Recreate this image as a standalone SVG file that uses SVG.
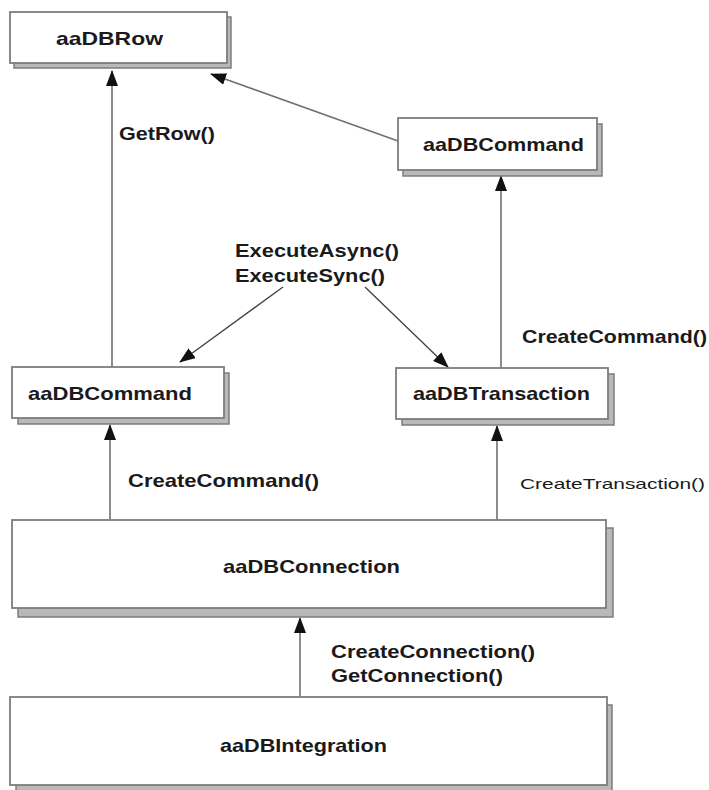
<svg xmlns="http://www.w3.org/2000/svg" width="709" height="790" viewBox="0 0 709 790">
<defs>
<marker id="ah" markerWidth="16" markerHeight="12" refX="15" refY="6" viewBox="0 0 16 12" orient="auto" markerUnits="userSpaceOnUse">
<path d="M0,0 L16,6 L0,12 Z" fill="#111"/>
</marker>
</defs>
<style>
.sh{fill:#b9b9b9;stroke:#7d7d7d;stroke-width:1.5}
.bx{fill:#fff;stroke:#7d7d7d;stroke-width:1.8}
.t{font-family:"Liberation Sans",Arial,sans-serif;font-weight:bold;font-size:19px;fill:#1a1a1a}
.tn{font-family:"Liberation Sans",Arial,sans-serif;font-weight:normal;font-size:15px;fill:#1a1a1a}
.ln{stroke:#707070;stroke-width:1.6;fill:none}
.dl{stroke:#404040;stroke-width:1.3;fill:none}
</style>
<rect x="0" y="0" width="709" height="790" fill="#fff"/>
<g id="connectors">
<line class="ln" x1="112" y1="367" x2="112" y2="71" marker-end="url(#ah)"/>
<line class="ln" x1="398" y1="141" x2="211" y2="74" marker-end="url(#ah)"/>
<line class="ln" x1="501" y1="368" x2="501" y2="176" marker-end="url(#ah)"/>
<line class="dl" x1="283" y1="287" x2="180" y2="362" marker-end="url(#ah)"/>
<line class="dl" x1="365" y1="287" x2="448" y2="367" marker-end="url(#ah)"/>
<line class="ln" x1="110" y1="519" x2="110" y2="425" marker-end="url(#ah)"/>
<line class="ln" x1="497" y1="520" x2="497" y2="426" marker-end="url(#ah)"/>
<line class="ln" x1="300" y1="697" x2="300" y2="618" marker-end="url(#ah)"/>
<text class="t" x="119" y="140" textLength="96" lengthAdjust="spacingAndGlyphs">GetRow()</text>
<text class="t" x="235" y="257" textLength="164" lengthAdjust="spacingAndGlyphs">ExecuteAsync()</text>
<text class="t" x="235" y="282" textLength="150" lengthAdjust="spacingAndGlyphs">ExecuteSync()</text>
<text class="t" x="522" y="343" textLength="185" lengthAdjust="spacingAndGlyphs">CreateCommand()</text>
<text class="t" x="128" y="487" textLength="191" lengthAdjust="spacingAndGlyphs">CreateCommand()</text>
<text class="tn" x="520" y="489" textLength="185" lengthAdjust="spacingAndGlyphs">CreateTransaction()</text>
<text class="t" x="331" y="658" textLength="204" lengthAdjust="spacingAndGlyphs">CreateConnection()</text>
<text class="t" x="331" y="682" textLength="172" lengthAdjust="spacingAndGlyphs">GetConnection()</text>
</g>
<g id="aaDBRow">
<rect class="sh" x="14" y="17" width="217" height="51"/>
<rect class="bx" x="10" y="12" width="217" height="51"/>
<text class="t" x="56" y="45" textLength="107" lengthAdjust="spacingAndGlyphs">aaDBRow</text>
</g>
<g id="aaDBCommand_top">
<rect class="sh" x="403" y="124" width="199" height="52"/>
<rect class="bx" x="398" y="118" width="199" height="52"/>
<text class="t" x="423" y="151" textLength="161" lengthAdjust="spacingAndGlyphs">aaDBCommand</text>
</g>
<g id="aaDBCommand_mid">
<rect class="sh" x="18" y="373" width="211" height="51"/>
<rect class="bx" x="12" y="367" width="212" height="51"/>
<text class="t" x="28" y="400" textLength="164" lengthAdjust="spacingAndGlyphs">aaDBCommand</text>
</g>
<g id="aaDBTransaction">
<rect class="sh" x="402" y="374" width="212" height="51"/>
<rect class="bx" x="396" y="368" width="212" height="51"/>
<text class="t" x="413" y="400" textLength="177" lengthAdjust="spacingAndGlyphs">aaDBTransaction</text>
</g>
<g id="aaDBConnection">
<rect class="sh" x="18" y="528" width="595" height="89"/>
<rect class="bx" x="12" y="520" width="594" height="88"/>
<text class="t" x="223" y="573" textLength="177" lengthAdjust="spacingAndGlyphs">aaDBConnection</text>
</g>
<g id="aaDBIntegration">
<rect class="sh" x="16" y="705" width="596" height="92"/>
<rect class="bx" x="10" y="697" width="597" height="88"/>
<text class="t" x="220" y="752" textLength="167" lengthAdjust="spacingAndGlyphs">aaDBIntegration</text>
</g>
</svg>
